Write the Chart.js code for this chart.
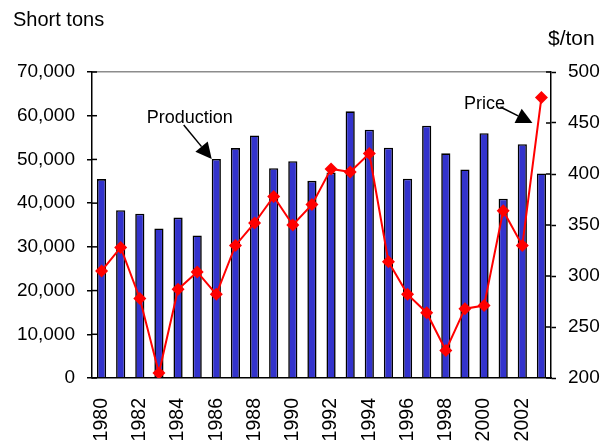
<!DOCTYPE html>
<html lang="en">
<head>
  <meta charset="UTF-8">
  <title>Production and Price</title>
  <style>
    html, body { margin: 0; padding: 0; background: #fff; }
    #wrap { width: 615px; height: 448px; position: relative; }
  </style>
  <script src="https://cdn.jsdelivr.net/npm/chart.js"></script>
</head>
<body>
  <div id="wrap"><canvas id="chart"></canvas></div>

  <script>
    // Years shown along the bottom
    const years = ['1980', '1981', '1982', '1983', '1984', '1985', '1986', '1987', '1988', '1989',
                   '1990', '1991', '1992', '1993', '1994', '1995', '1996', '1997', '1998', '1999',
                   '2000', '2001', '2002', '2003'];

    // Production, short tons (left axis)
    const production = [45500, 38400, 37600, 34200, 36700, 32600, 50100, 52600, 55500, 48000,
                        49600, 45100, 47000, 61000, 56800, 52700, 45600, 57700, 51400, 47700,
                        56000, 41000, 53500, 46800];

    // Price, $/ton (right axis)
    const price = [305, 328, 278, 205, 287, 304, 282, 330, 352, 378,
                   350, 370, 405, 402, 420, 314, 282, 264, 227, 268,
                   271, 364, 330, 475];

    const FONT = 'Liberation Sans, Arial, sans-serif';
    Chart.defaults.font.family = FONT;
    Chart.defaults.font.size = 19;
    Chart.defaults.color = '#000';

    // tick marks on both value axes cross the axis line
    const crossTicks = {
      id: 'crossTicks',
      afterDraw(chart) {
        const ctx = chart.ctx;
        ctx.save();
        ctx.strokeStyle = '#000';
        ctx.lineWidth = 1.5;
        const left = chart.scales.y, right = chart.scales.y2;
        left.ticks.forEach(t => {
          const py = left.getPixelForValue(t.value);
          ctx.beginPath(); ctx.moveTo(left.right, py); ctx.lineTo(left.right + 5, py); ctx.stroke();
        });
        right.ticks.forEach(t => {
          const py = right.getPixelForValue(t.value);
          ctx.beginPath(); ctx.moveTo(right.left, py); ctx.lineTo(right.left - 5, py); ctx.stroke();
        });
        ctx.restore();
      }
    };

    function arrow(ctx, x0, y0, x1, y1) {
      const a = Math.atan2(y1 - y0, x1 - x0);
      const len = 16, half = 8;
      const bx = x1 - len * Math.cos(a), by = y1 - len * Math.sin(a);
      ctx.beginPath();
      ctx.moveTo(x0, y0); ctx.lineTo(bx, by);
      ctx.stroke();
      ctx.beginPath();
      ctx.moveTo(x1, y1);
      ctx.lineTo(bx + half * Math.sin(a), by - half * Math.cos(a));
      ctx.lineTo(bx - half * Math.sin(a), by + half * Math.cos(a));
      ctx.closePath();
      ctx.fill();
    }

    // axis titles and the two callouts
    const labels = {
      id: 'labels',
      afterDraw(chart) {
        const ctx = chart.ctx;
        const area = chart.chartArea;
        const xs = chart.scales.x, y2 = chart.scales.y2;
        ctx.save();
        ctx.fillStyle = '#000';
        ctx.strokeStyle = '#000';
        ctx.lineWidth = 1.5;
        ctx.font = '20px ' + FONT;
        ctx.textBaseline = 'alphabetic';
        ctx.textAlign = 'left';
        ctx.fillText('Short tons', 13, area.top - 46);
        ctx.font = '21px ' + FONT;
        ctx.fillText('$/ton', area.right - 3, area.top - 27);

        // Production callout points at the 1986 bar
        const bar = chart.getDatasetMeta(0).data[6];
        const tipX = bar.x - bar.width / 2, tipY = bar.y;
        ctx.font = '18px ' + FONT;
        ctx.textAlign = 'center';
        ctx.fillText('Production', tipX - 22, tipY - 36);
        arrow(ctx, tipX - 28, tipY - 34, tipX, tipY);

        // Price callout near the 2003 point
        const px = xs.getPixelForValue(23) - 9, py = y2.getPixelForValue(450);
        ctx.fillText('Price', px - 48, py - 14);
        arrow(ctx, px - 32, py - 16, px, py);
        ctx.restore();
      }
    };

    new Chart(document.getElementById('chart'), {
      data: {
        labels: years,
        datasets: [
          {
            type: 'bar',
            label: 'Production',
            data: production,
            yAxisID: 'y',
            backgroundColor: '#3333CC',
            borderColor: '#000',
            borderWidth: 1.6,
            categoryPercentage: 1,
            barPercentage: 0.48,
            order: 1
          },
          {
            type: 'line',
            label: 'Price',
            data: price,
            yAxisID: 'y2',
            borderColor: '#FF0000',
            backgroundColor: '#FF0000',
            borderWidth: 2,
            pointStyle: 'rectRot',
            pointRadius: 6.5,
            pointBorderWidth: 0,
            tension: 0,
            order: 0
          }
        ]
      },
      options: {
        responsive: true,
        maintainAspectRatio: false,
        animation: false,
        layout: { padding: { top: 72, left: 0, right: 0, bottom: 0 } },
        plugins: { legend: { display: false }, tooltip: { enabled: false } },
        scales: {
          x: {
            offset: true,
            afterFit(scale) { scale.height = 70; },
            grid: { display: false, drawTicks: false },
            border: { color: '#000', width: 1.5 },
            ticks: {
              autoSkip: false,
              minRotation: 90,
              maxRotation: 90,
              padding: 20,
              font: { size: 19.5 },
              callback(v, i) { return i % 2 === 0 ? years[i] : ''; }
            }
          },
          y: {
            position: 'left',
            min: 0,
            max: 70000,
            afterFit(scale) { scale.width = 92; },
            grid: {
              color: ctx => ctx.tick && ctx.tick.value === 70000 ? '#8c8c8c' : 'rgba(0,0,0,0)',
              tickColor: '#000',
              tickLength: 5,
              tickWidth: 1.5,
              lineWidth: 1.5
            },
            border: { color: '#000', width: 1.5 },
            ticks: {
              stepSize: 10000,
              padding: 12,
              callback: v => v.toLocaleString('en-US')
            }
          },
          y2: {
            position: 'right',
            min: 200,
            max: 500,
            afterFit(scale) { scale.width = 64; },
            grid: { drawOnChartArea: false, tickColor: '#000', tickLength: 5, tickWidth: 1.5 },
            border: { color: '#000', width: 1.5 },
            ticks: { stepSize: 50, padding: 12 }
          }
        }
      },
      plugins: [crossTicks, labels]
    });
  </script>
</body>
</html>
